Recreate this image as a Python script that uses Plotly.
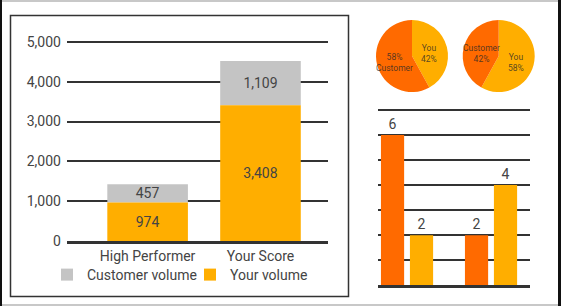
import math
import plotly.graph_objects as go

# ---- data ----
categories = ["High Performer", "Your Score"]
your_volume = [974, 3408]
customer_volume = [457, 1109]

pie1_labels = ["You", "Customer"]
pie1_values = [42, 58]
pie2_labels = ["You", "Customer"]
pie2_values = [58, 42]

small_groups = [0, 1]
small_orange = [6, 2]
small_yellow = [2, 4]

# ---- styles ----
W, H = 561, 306
YELLOW = "#FFAE00"
ORANGE = "#FF6A00"
GRAY = "#C4C4C4"
TXT = "#444444"
LINE = "#333333"
FONT = "Roboto"
PIE_TXT = "rgba(40,40,40,0.78)"


def px(x):
    return x / W


def py(y):
    return 1 - y / H


fig = go.Figure()

# left stacked chart
fig.add_trace(go.Bar(
    x=categories, y=customer_volume, base=your_volume, name="Customer volume",
    marker=dict(color=GRAY, line=dict(width=0)), offsetgroup="a", width=0.714,
    text=customer_volume, texttemplate="%{text:,}", textposition="inside",
    insidetextanchor="middle", textangle=0, constraintext="none",
    textfont=dict(size=14, color=TXT, family=FONT), legend="legend",
    xaxis="x", yaxis="y"))
fig.add_trace(go.Bar(
    x=categories, y=your_volume, name="Your volume",
    marker=dict(color=YELLOW, line=dict(width=0)), offsetgroup="a", width=0.714,
    text=your_volume, texttemplate="%{text:,}", textposition="inside",
    insidetextanchor="middle", textangle=0, constraintext="none",
    textfont=dict(size=14, color=TXT, family=FONT), legend="legend2",
    xaxis="x", yaxis="y"))

# right small grouped chart
fig.add_trace(go.Bar(
    x=small_groups, y=small_orange, marker=dict(color=ORANGE, line=dict(width=0)),
    text=small_orange, textposition="outside", cliponaxis=False, showlegend=False,
    textfont=dict(size=14, color=TXT, family=FONT), xaxis="x2", yaxis="y2"))
fig.add_trace(go.Bar(
    x=small_groups, y=small_yellow, marker=dict(color=YELLOW, line=dict(width=0)),
    text=small_yellow, textposition="outside", cliponaxis=False, showlegend=False,
    textfont=dict(size=14, color=TXT, family=FONT), xaxis="x2", yaxis="y2"))

# pies (geometry of each pie: center and radius in pixels)
pies = [
    dict(labels=pie1_labels, values=pie1_values, cx=412, cy=56, r=36,
         fmt=["{l}<br>{p}%", "{p}%<br>{l}"]),
    dict(labels=pie2_labels, values=pie2_values, cx=498.7, cy=56, r=36,
         fmt=["{l}<br>{p}%", "{l}<br>{p}%"]),
]
annotations = []
for p in pies:
    fig.add_trace(go.Pie(
        labels=p["labels"], values=p["values"], sort=False, direction="clockwise",
        rotation=0, marker=dict(colors=[YELLOW, ORANGE], line=dict(width=0)),
        textinfo="none", showlegend=False, hoverinfo="label+percent",
        domain=dict(x=[px(p["cx"] - p["r"]), px(p["cx"] + p["r"])],
                    y=[py(p["cy"] + p["r"]), py(p["cy"] - p["r"])])))
    total = sum(p["values"])
    cum = 0
    for lab, val, fmt in zip(p["labels"], p["values"], p["fmt"]):
        mid = (cum + val / 2) / total * 2 * math.pi
        cum += val
        tx = p["cx"] + 0.5 * p["r"] * math.sin(mid)
        ty = p["cy"] - 0.5 * p["r"] * math.cos(mid) + 2
        pct = round(100 * val / total)
        annotations.append(dict(
            xref="paper", yref="paper", x=px(tx), y=py(ty), xanchor="center",
            yanchor="middle", showarrow=False, text=fmt.format(l=lab, p=pct),
            font=dict(size=8.5, color=PIE_TXT, family=FONT)))

shapes = [
    # outer frame
    dict(type="rect", xref="paper", yref="paper", x0=0, x1=1, y0=0, y1=1,
         line=dict(color="#C8C8C8", width=4), layer="above"),
    dict(type="line", xref="paper", yref="paper", x0=0, x1=0, y0=0, y1=1,
         line=dict(color="#111111", width=4), layer="above"),
    dict(type="line", xref="paper", yref="paper", x0=1, x1=1, y0=0, y1=1,
         line=dict(color="#111111", width=6), layer="above"),
    # left panel box
    dict(type="rect", xref="paper", yref="paper", x0=px(10.5), x1=px(348.5),
         y0=py(296.5), y1=py(15.5), line=dict(color=LINE, width=1.5)),
]

legend_style = dict(orientation="h", xanchor="left", yanchor="middle", y=py(275),
                    font=dict(size=14, color=TXT, family=FONT),
                    bgcolor="rgba(0,0,0,0)", borderwidth=0)

fig.update_layout(
    width=W, height=H,
    margin=dict(l=0, r=0, t=0, b=0, pad=0, autoexpand=False),
    paper_bgcolor="white", plot_bgcolor="rgba(0,0,0,0)",
    font=dict(family=FONT, color=TXT),
    barmode="group", bargap=0.31, bargroupgap=0.2,
    shapes=shapes, annotations=annotations,
    xaxis=dict(domain=[px(66.9), px(328.1)], type="category", range=[-0.715, 1.599],
               showline=True, linecolor=LINE, linewidth=3, ticks="", showgrid=False,
               automargin=False,
               tickfont=dict(size=14, color=TXT, family=FONT), fixedrange=True),
    yaxis=dict(domain=[py(241.3), py(40.5)], range=[0, 5030], dtick=1000, tickformat=",",
               showgrid=True, gridcolor=LINE, gridwidth=2, zeroline=False, showline=False,
               ticks="", ticklabelstandoff=5, automargin=False,
               tickfont=dict(size=14, color=TXT, family=FONT), fixedrange=True),
    xaxis2=dict(domain=[px(378.3), px(530)], range=[-0.342, 1.464], showline=True,
                linecolor=LINE, linewidth=3, showgrid=False, showticklabels=False,
                zeroline=False, ticks="", anchor="y2", automargin=False),
    yaxis2=dict(domain=[py(285.3), py(108.7)], range=[0, 7.05], dtick=1, showgrid=True,
                gridcolor=LINE, gridwidth=2, zeroline=False, showticklabels=False,
                ticks="", anchor="x2", automargin=False),
    legend=dict(x=px(47), **legend_style),
    legend2=dict(x=px(190), **legend_style),
    showlegend=True,
)

fig.write_html("out.html")
